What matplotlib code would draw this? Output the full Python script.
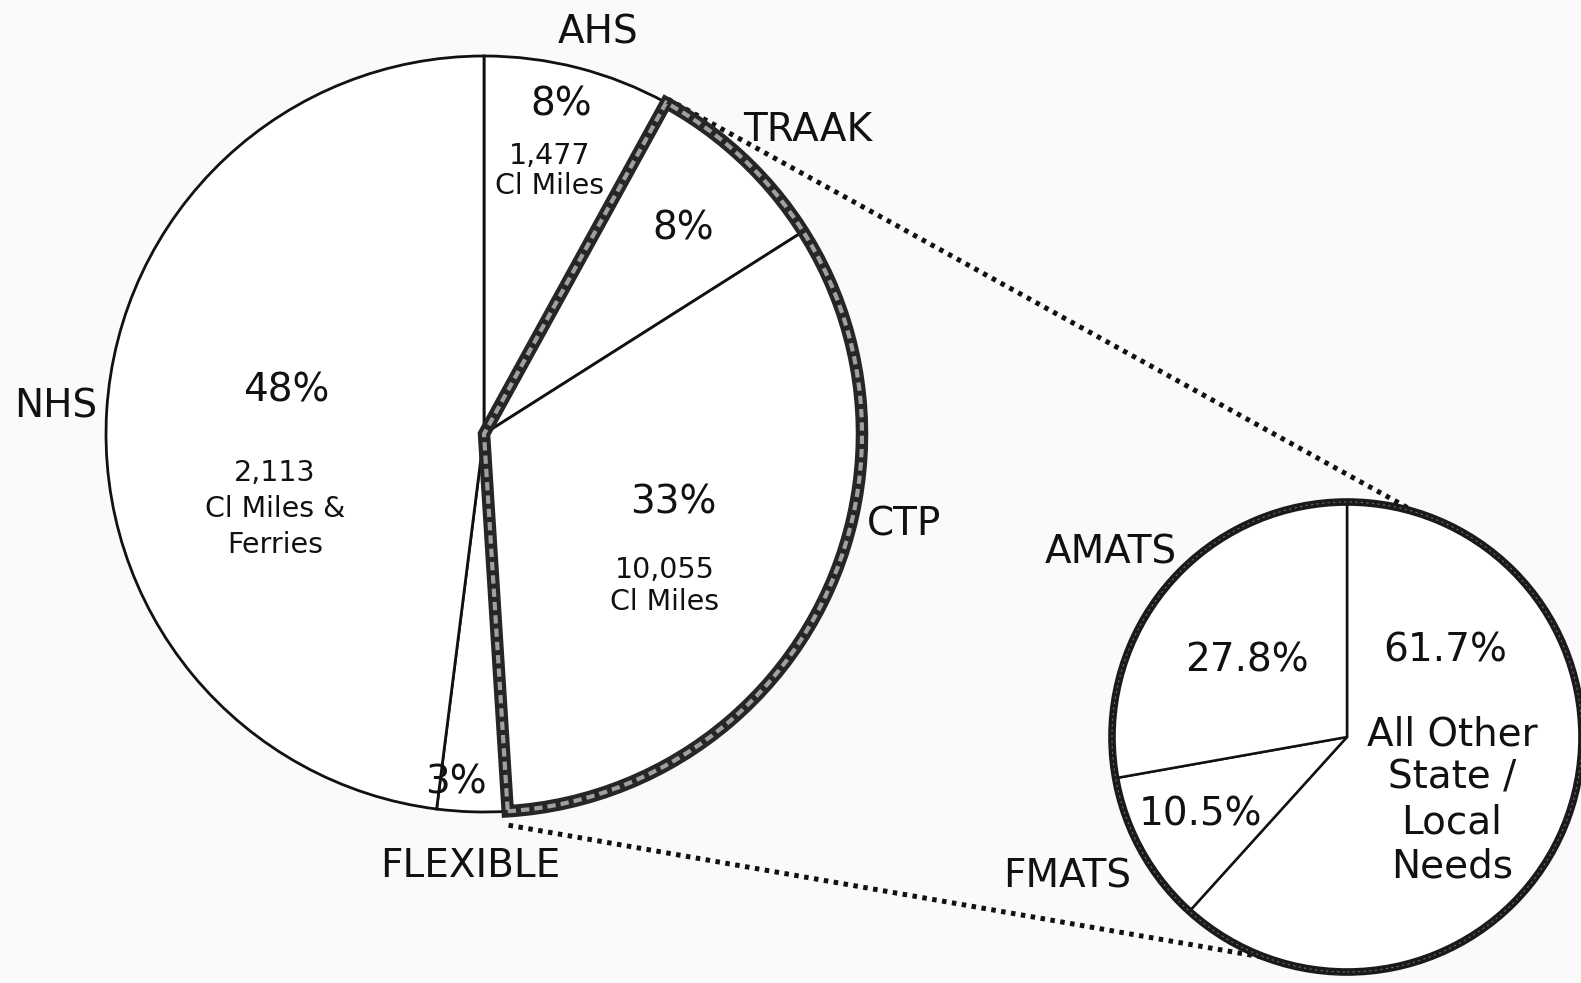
import matplotlib
matplotlib.use("Agg")
import matplotlib.pyplot as plt
from matplotlib.patches import Wedge
import numpy as np

# ---- data ----
main_labels = ["AHS", "TRAAK", "CTP", "FLEXIBLE", "NHS"]
main_values = [8, 8, 33, 3, 48]
main_pct_text = ["8%", "8%", "33%", "3%", "48%"]
main_sub_text = ["1,477\nCl Miles", "", "10,055\nCl Miles", "", "2,113\nCl Miles &\nFerries"]
group_members = ["TRAAK", "CTP"]  # slices expanded in the second pie

sub_labels = ["All Other\nState /\nLocal\nNeeds", "FMATS", "AMATS"]
sub_values = [61.7, 10.5, 27.8]
sub_pct_text = ["61.7%", "10.5%", "27.8%"]

W, H = 1581, 983
fig = plt.figure(figsize=(W / 100, H / 100), dpi=100)
fig.patch.set_facecolor("#fafafa")
ax = fig.add_axes([0, 0, 1, 1])
ax.set_facecolor("#fafafa")

def P(x, y):
    return (x, H - y)

c1 = P(484, 434); r1 = 378
c2 = P(1347, 737); r2 = 235

ax.pie(main_values, startangle=90, counterclock=False, center=c1, radius=r1,
       wedgeprops=dict(edgecolor="#111111", linewidth=2.0, facecolor="white"), frame=True)
ax.pie(sub_values, startangle=90, counterclock=False, center=c2, radius=r2,
       wedgeprops=dict(edgecolor="#111111", linewidth=1.8, facecolor="white"), frame=True)
# thick outline of second pie
ax.add_patch(plt.Circle(c2, r2, fill=False, edgecolor="#1a1a1a", linewidth=5.5, zorder=5))
ax.add_patch(plt.Circle(c2, r2, fill=False, edgecolor="#6a6a6a", linewidth=0.8,
                        linestyle=(0, (2, 3)), zorder=6))

# group outline (TRAAK + CTP)
total = sum(main_values)
cum = np.cumsum([0] + main_values)
i0 = main_labels.index(group_members[0]); i1 = main_labels.index(group_members[-1])
a_start = 90 - 360 * cum[i0] / total
a_end = 90 - 360 * cum[i1 + 1] / total
ax.add_patch(Wedge(c1, r1, a_end, a_start, fill=False, edgecolor="#262626",
                   linewidth=9, zorder=5, joinstyle="miter"))
ax.add_patch(Wedge(c1, r1, a_end, a_start, fill=False, edgecolor="#a0a0a0",
                   linewidth=3, zorder=6, linestyle=(0, (2, 1.2))))

# connecting dotted lines
def pt(c, r, ang):
    a = np.deg2rad(ang)
    return (c[0] + r * np.cos(a), c[1] + r * np.sin(a))

p1 = pt(c1, r1 + 4, a_start); q1 = pt(c2, r2, 73)
p2 = pt(c1, r1 + 14, a_end); q2 = pt(c2, r2, -110)
for p, q in [(p1, q1), (p2, q2)]:
    ax.plot([p[0], q[0]], [p[1], q[1]], color="#111111", linewidth=3.6,
            linestyle=(0, (0.9, 1.1)), solid_capstyle="butt", zorder=4)

fam = "DejaVu Sans"
big = 28
small = 20.5

def T(x, y, s, size=big, ha="center", ls=1.25, **kw):
    ax.text(*P(x, y), s, fontsize=size, ha=ha, va="center", family=fam,
            color="#111111", linespacing=ls, zorder=10, **kw)

# outer labels
T(598, 33, main_labels[0])
T(808, 130, main_labels[1])
T(904, 525, main_labels[2])
T(470, 866, main_labels[3])
T(56, 406, main_labels[4])

# in-slice text
T(561, 104, main_pct_text[0])
T(550, 171, main_sub_text[0], size=small, ls=1.05)
T(683, 229, main_pct_text[1])
T(673, 502, main_pct_text[2])
T(665, 586, main_sub_text[2], size=small, ls=1.2)
T(456, 782, main_pct_text[3])
T(286, 391, main_pct_text[4])
T(275, 509, main_sub_text[4], size=small, ls=1.35)

# second pie
T(1445, 651, sub_pct_text[0])
T(1452, 800, sub_labels[0], ls=1.2)
T(1200, 815, sub_pct_text[1])
T(1067, 876, sub_labels[1])
T(1247, 661, sub_pct_text[2])
T(1111, 552, sub_labels[2])

ax.set_xlim(0, W)
ax.set_ylim(0, H)
ax.set_aspect("equal")
ax.axis("off")
fig.savefig("out.png", dpi=100, facecolor=fig.get_facecolor())
